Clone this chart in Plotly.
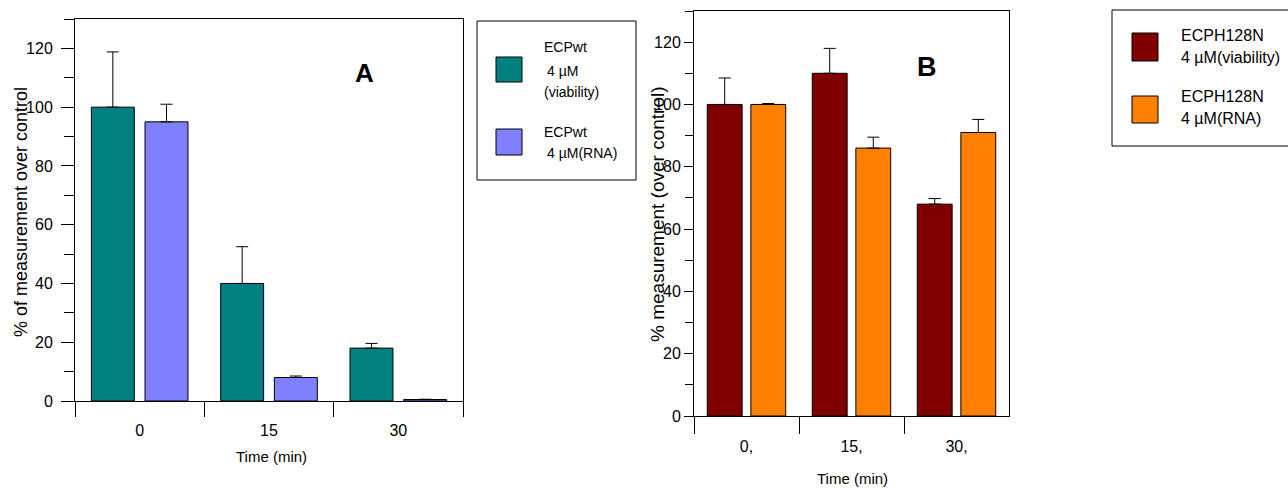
import plotly.graph_objects as go

# ---------------- data ----------------
cats_a = ["0", "15", "30"]
a_viability = [100, 40, 18]
a_viability_err = [18.8, 12.5, 1.6]
a_rna = [95, 8, 0.5]
a_rna_err = [6, 0.5, 0.1]

cats_b = ["0,", "15,", "30,"]
b_viability = [100, 110, 68]
b_viability_err = [8.5, 8, 1.8]
b_rna = [100, 86, 91]
b_rna_err = [0.3, 3.5, 4.2]

W, H = 1288, 488
FONT = "Liberation Sans, Arial, sans-serif"
NARROW = "Liberation Sans Narrow, Arial Narrow, Liberation Sans, Arial, sans-serif"

def px(x):
    return x / W

def py(y):
    return (H - y) / H

def bar(x, y, err, color, name, xa, ya):
    return go.Bar(
        x=x, y=y, name=name, xaxis=xa, yaxis=ya, showlegend=False,
        marker=dict(color=color, line=dict(color="black", width=1)),
        error_y=dict(type="data", array=err, arrayminus=[0] * len(err), symmetric=False,
                     color="black", thickness=1, width=6),
    )

fig = go.Figure()
fig.add_trace(bar(cats_a, a_viability, a_viability_err, "#008080", "ECPwt 4 µM (viability)", "x", "y"))
fig.add_trace(bar(cats_a, a_rna, a_rna_err, "#8080FF", "ECPwt 4 µM(RNA)", "x", "y"))
fig.add_trace(bar(cats_b, b_viability, b_viability_err, "#800000", "ECPH128N 4 µM(viability)", "x2", "y2"))
fig.add_trace(bar(cats_b, b_rna, b_rna_err, "#FF8000", "ECPH128N 4 µM(RNA)", "x2", "y2"))

def xaxis(domain, anchor, ticklen, standoff):
    return dict(domain=domain, anchor=anchor, type="category", automargin=False,
                showline=True, linecolor="black", linewidth=1, mirror=True,
                ticks="outside", tickson="boundaries", ticklen=ticklen, tickcolor="black",
                ticklabelstandoff=standoff,
                showgrid=False, zeroline=False,
                tickfont=dict(family=FONT, size=16, color="black"))

def yaxis(domain, anchor, ticklen, minorlen, standoff):
    return dict(domain=domain, anchor=anchor, range=[0, 130], automargin=False,
                showline=True, linecolor="black", linewidth=1, mirror=True,
                ticks="outside", ticklen=ticklen, tickcolor="black", dtick=20, tick0=0,
                ticklabelstandoff=standoff,
                minor=dict(dtick=10, ticks="outside", ticklen=minorlen, tickcolor="black"),
                showgrid=False, zeroline=False,
                tickfont=dict(family=FONT, size=16, color="black"))

fig.update_layout(
    width=W, height=H, autosize=False,
    margin=dict(l=0, r=0, t=0, b=0, pad=0),
    paper_bgcolor="white", plot_bgcolor="white",
    barmode="group", bargap=0.17, bargroupgap=0.2,
    showlegend=False,
    xaxis=xaxis([px(75), px(463)], "y", 15, 15),
    yaxis=yaxis([py(401), py(19)], "x", 13, 10, 5),
    xaxis2=xaxis([px(694), px(1009)], "y2", 17, 16),
    yaxis2=yaxis([py(416), py(11)], "x2", 9, 8, 0),
)

ann = []
def text(x, y, s, size=16, family=FONT, angle=0, xanchor="center", bold=False, yanchor="middle"):
    if bold:
        s = "<b>" + s + "</b>"
    ann.append(dict(x=px(x), y=py(y), xref="paper", yref="paper", text=s, showarrow=False,
                    xanchor=xanchor, yanchor=yanchor, textangle=angle, borderpad=0,
                    font=dict(family=family, size=size, color="black")))

# axis titles
text(21, 212, "% of measurement over control", size=18, angle=-90)
text(271, 456, "Time (min)", size=15, family=NARROW)
text(657, 214, "% measurement (over control)", size=19, angle=-90)
text(852, 488, "Time (min)", size=15, family=NARROW, yanchor="bottom")

# panel letters
text(364, 73, "A", size=26, bold=True)
text(927, 67, "B", size=27, bold=True)

shapes = []
def rect(x0, y0, x1, y1, fill=None):
    shapes.append(dict(type="rect", xref="paper", yref="paper",
                       x0=px(x0), x1=px(x1), y0=py(y1), y1=py(y0),
                       line=dict(color="black", width=1),
                       fillcolor=fill if fill else "rgba(0,0,0,0)"))

# legend A
rect(477, 21, 636, 180)
rect(496, 57, 522, 82, "#008080")
rect(496, 129, 522, 155, "#8080FF")
text(543, 47, "ECPwt", size=14, family=NARROW, xanchor="left")
text(546, 71, "4 µM", size=14, family=NARROW, xanchor="left")
text(543, 92, "(viability)", size=14, family=NARROW, xanchor="left")
text(543, 132, "ECPwt", size=14, family=NARROW, xanchor="left")
text(546, 153, "4 µM(RNA)", size=14, family=NARROW, xanchor="left")

# legend B
rect(1112, 10, 1296, 146)
rect(1132, 33, 1158, 61, "#800000")
rect(1132, 96, 1158, 123, "#FF8000")
text(1180, 35, "ECPH128N", size=16, family=NARROW, xanchor="left")
text(1180, 58, "4 µM(viability)", size=16, family=NARROW, xanchor="left")
text(1180, 97, "ECPH128N", size=16, family=NARROW, xanchor="left")
text(1180, 119, "4 µM(RNA)", size=16, family=NARROW, xanchor="left")

fig.update_layout(annotations=ann, shapes=shapes)
fig.write_html("out.html",
               config={"responsive": False, "displayModeBar": False},
               post_script="document.body.style.margin='0px';document.body.style.overflow='hidden';")
